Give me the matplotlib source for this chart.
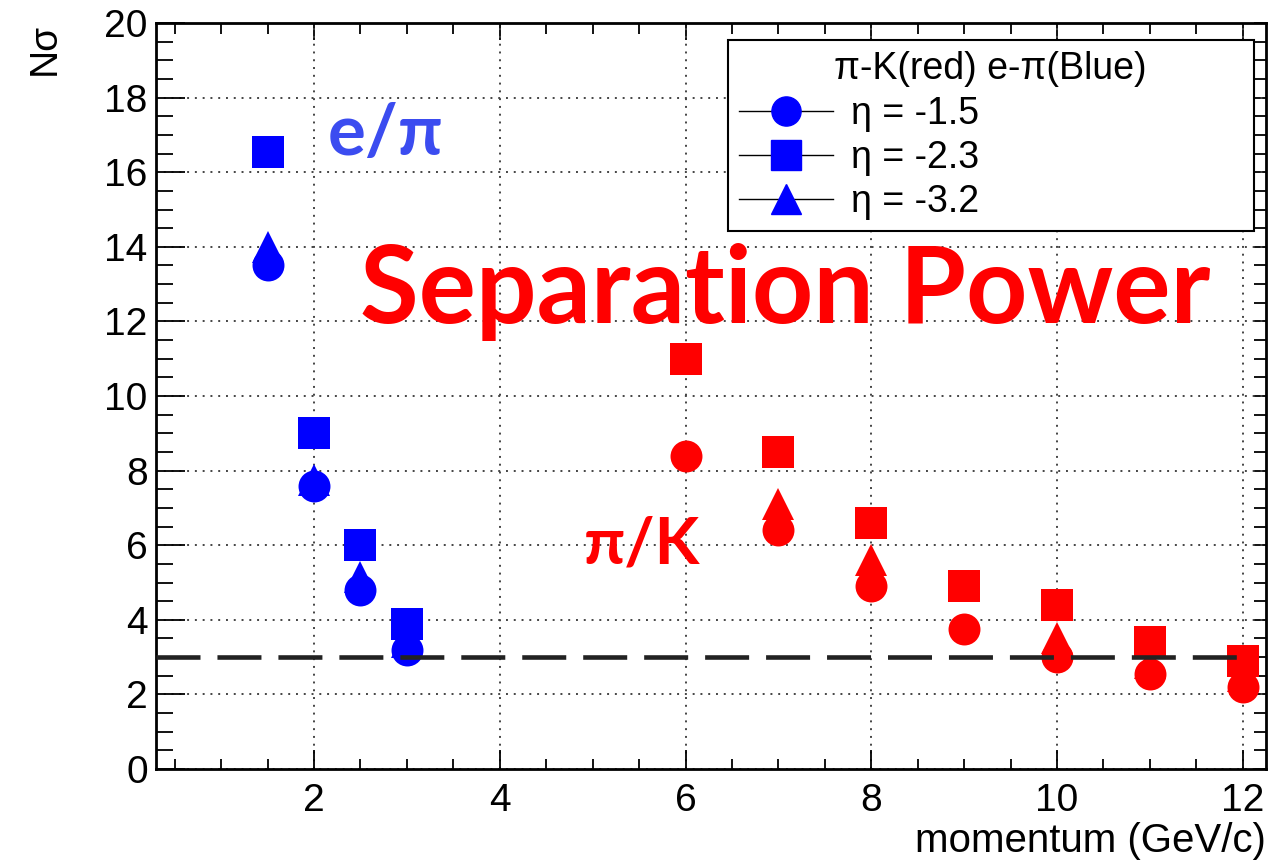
import matplotlib
matplotlib.use("Agg")
import matplotlib.pyplot as plt
from matplotlib.lines import Line2D
from matplotlib.ticker import MultipleLocator

nan = float("nan")

# e/pi separation (blue)
momentum_e = [1.5, 2.0, 2.5, 3.0]
e_eta15 = [13.5, 7.6, 4.8, 3.2]
e_eta23 = [16.55, 9.0, 6.0, 3.9]
e_eta32 = [14.0, 7.75, 5.15, 3.4]

# pi/K separation (red)
momentum_pk = [6, 7, 8, 9, 10, 11, 12]
pk_eta15 = [8.4, 6.4, 4.9, 3.75, 3.0, 2.55, 2.2]
pk_eta23 = [11.0, 8.5, 6.6, 4.9, 4.4, 3.4, 2.9]
pk_eta32 = [nan, 7.1, 5.6, nan, 3.5, 2.85, 2.5]

eta_labels = ["η = -1.5", "η = -2.3", "η = -3.2"]
threshold = 3.0
threshold_end = 12.0

plt.rcParams['font.family'] = ['Liberation Sans', 'DejaVu Sans']

fig = plt.figure(figsize=(12.76, 8.66), dpi=100)
ax = fig.add_axes([0.1223, 0.112, 0.8699, 0.8614])

ms = 23
for xs, ys, col in [(momentum_e, (e_eta15, e_eta23, e_eta32), "#0000ff"),
                    (momentum_pk, (pk_eta15, pk_eta23, pk_eta32), "#ff0000")]:
    ax.plot(xs, ys[2], ls="none", marker="^", ms=ms, mew=0, color=col, zorder=3)
    ax.plot(xs, ys[1], ls="none", marker="s", ms=ms, mew=0, color=col, zorder=4)
    ax.plot(xs, ys[0], ls="none", marker="o", ms=ms, mew=0, color=col, zorder=5)

ax.set_xlim(0.3, 12.25)
ax.set_ylim(0, 20)
ax.hlines(threshold, 0.3, threshold_end, colors="#222222", lw=3.3,
          linestyles=(0, (9.6, 3.7)), zorder=6)

ax.xaxis.set_major_locator(MultipleLocator(2))
ax.xaxis.set_minor_locator(MultipleLocator(0.5))
ax.yaxis.set_major_locator(MultipleLocator(2))
ax.yaxis.set_minor_locator(MultipleLocator(0.5))
ax.set_xticks([2, 4, 6, 8, 10, 12])
ax.grid(True, which="major", ls=(0, (1, 3)), lw=1.4, color="#444444")

ax.tick_params(axis="both", which="both", direction="in", labelsize=28, width=1.3)
ax.tick_params(axis="x", which="major", length=14, pad=10)
ax.tick_params(axis="x", which="minor", length=7)
ax.tick_params(axis="y", which="major", length=21, pad=6)
ax.tick_params(axis="y", which="minor", length=12)
for s in ax.spines.values():
    s.set_linewidth(2)

top = ax.secondary_xaxis("top")
top.xaxis.set_major_locator(MultipleLocator(2))
top.xaxis.set_minor_locator(MultipleLocator(0.5))
top.tick_params(which="major", direction="in", length=12, width=1.3, labeltop=False)
top.tick_params(which="minor", direction="in", length=8, width=1.3)
right = ax.secondary_yaxis("right")
right.yaxis.set_major_locator(MultipleLocator(2))
right.yaxis.set_minor_locator(MultipleLocator(0.5))
right.tick_params(which="both", direction="in", length=9, width=1.3, labelright=False)

ax.set_xlabel("momentum (GeV/c)", fontsize=29, loc="right", labelpad=2)
ax.set_ylabel("Nσ", fontsize=28, loc="top", labelpad=30)

handles = [
    Line2D([], [], color="black", lw=1, marker=m, ms=21, mfc="#0000ff", mec="#0000ff")
    for m in ["o", "s", "^"]
]
leg = ax.legend(handles, eta_labels, title="π-K(red) e-π(Blue)",
                loc="upper left", bbox_to_anchor=(0.515, 0.725, 0.474, 0.252),
                mode="expand", borderaxespad=0, fontsize=27, title_fontsize=27,
                handlelength=2.5, handletextpad=0.5, labelspacing=0.22,
                borderpad=0.3, fancybox=False, framealpha=1, edgecolor="black")
leg.get_frame().set_linewidth(1.5)
leg.set_zorder(10)

bold = ["Lato", "Open Sans"]
ax.text(2.15, 17.0, "e/π", color="#3b4cf0", fontsize=51, fontweight="bold",
        family=bold, ha="left", va="center", zorder=7)
ax.text(2.5, 12.8, "Separation Power", color="#ff0000", fontsize=77,
        fontweight="bold", family=bold, ha="left", va="center", zorder=7)
ax.text(4.9, 6.0, "π/K", color="#ff0000", fontsize=47, fontweight="bold",
        family=bold, ha="left", va="center", zorder=7)

fig.savefig("out.png", dpi=100)
